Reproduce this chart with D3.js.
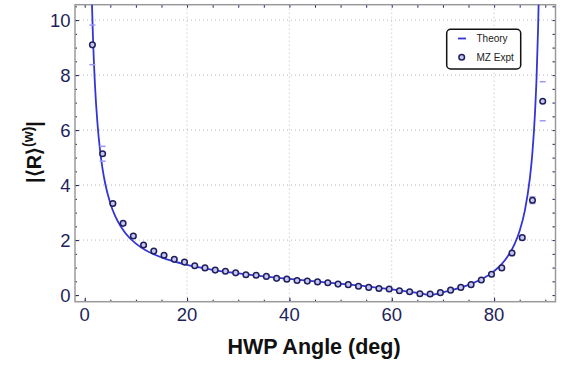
<!DOCTYPE html>
<html>
<head>
<meta charset="utf-8">
<script src="https://cdn.jsdelivr.net/npm/d3@7"></script>
<style>
  body { margin: 0; background: #fff; }
  text { font-family: "Liberation Sans", Arial, sans-serif; }
</style>
</head>
<body>
<script>
// Measured points (HWP angle in deg, |<R>w| and error)
const exptAngle = [1.5, 3.5, 5.5, 7.5, 9.5, 11.5, 13.5, 15.5, 17.5, 19.5,
  21.5, 23.5, 25.5, 27.5, 29.5, 31.5, 33.5, 35.5, 37.5, 39.5,
  41.5, 43.5, 45.5, 47.5, 49.5, 51.5, 53.5, 55.5, 57.5, 59.5,
  61.5, 63.5, 65.5, 67.5, 69.5, 71.5, 73.5, 75.5, 77.5, 79.5,
  81.5, 83.5, 85.5, 87.5, 89.5];
const exptValue = [9.10, 5.14, 3.33, 2.61, 2.15, 1.82, 1.60, 1.45, 1.30, 1.20,
  1.07, 0.99, 0.91, 0.87, 0.81, 0.74, 0.72, 0.68, 0.61, 0.58,
  0.53, 0.51, 0.48, 0.45, 0.40, 0.38, 0.32, 0.28, 0.24, 0.22,
  0.16, 0.12, 0.05, 0.04, 0.09, 0.18, 0.28, 0.38, 0.55, 0.76,
  0.99, 1.53, 2.09, 3.45, 7.05];
const exptError = [0.72, 0.27, 0.06, 0.05, 0.04, 0.03, 0.03, 0.03, 0.03, 0.03,
  0.03, 0.03, 0.03, 0.03, 0.03, 0.03, 0.03, 0.03, 0.03, 0.03,
  0.03, 0.03, 0.03, 0.03, 0.03, 0.03, 0.03, 0.03, 0.03, 0.03,
  0.03, 0.03, 0.03, 0.03, 0.03, 0.03, 0.03, 0.03, 0.03, 0.04,
  0.04, 0.05, 0.06, 0.12, 0.71];

// Theory curve
const theoryAngle = [1.4, 1.6, 1.8, 2.0, 2.5, 3.0, 3.5, 4, 5, 6, 7, 8, 10, 12, 15, 20,
  25, 30, 35, 40, 45, 50, 55, 60, 65, 66, 67.5, 69, 70, 75, 80, 82, 84, 85, 86,
  87, 87.5, 88, 88.3, 88.6, 88.8];
const theoryValue = [10.7, 9.44, 8.44, 7.65, 6.22, 5.26, 4.57, 4.06, 3.34, 2.85, 2.51, 2.24, 1.87, 1.62, 1.37, 1.10,
  0.92, 0.79, 0.68, 0.59, 0.50, 0.41, 0.32, 0.21, 0.08, 0.05, 0.0, 0.056, 0.10, 0.37, 0.87, 1.24, 1.85, 2.34, 3.06,
  4.26, 5.21, 6.65, 7.91, 9.72, 11.43];

const xTicks = [0, 20, 40, 60, 80];
const yTicks = [0, 2, 4, 6, 8, 10];

const width = 561, height = 366;
const plot = {left: 75, right: 555.5, top: 4.7, bottom: 301.7};
const navy = "#1f1f5c";

const svg = d3.select("body")
  .append("svg")
    .attr("width", width)
    .attr("height", height);

const x = d3.scaleLinear()
  .domain([-1.9, 92])
  .range([plot.left, plot.right]);

const y = d3.scaleLinear()
  .domain([-0.24, 10.56])
  .range([plot.bottom, plot.top]);

svg.append("clipPath").attr("id", "clip")
  .append("rect")
    .attr("x", plot.left).attr("y", plot.top)
    .attr("width", plot.right - plot.left)
    .attr("height", plot.bottom - plot.top);

// dotted grid lines
svg.append("g")
  .selectAll("line")
  .data(xTicks.filter(d => d > 0))
  .enter().append("line")
    .attr("x1", d => x(d)).attr("x2", d => x(d))
    .attr("y1", plot.top).attr("y2", plot.bottom)
    .attr("stroke", "#b8b8b8").attr("stroke-dasharray", "1,3");

svg.append("g")
  .selectAll("line")
  .data(yTicks.filter(d => d > 0))
  .enter().append("line")
    .attr("x1", plot.left).attr("x2", plot.right)
    .attr("y1", d => y(d)).attr("y2", d => y(d))
    .attr("stroke", "#b8b8b8").attr("stroke-dasharray", "1,3");

// frame and ticks (inward, on all four sides)
const ph = plot.bottom - plot.top, pw = plot.right - plot.left;
const fmt = () => "";
svg.append("g").attr("transform", `translate(0,${plot.bottom})`)
  .call(d3.axisTop(x).tickValues(d3.range(0, 91, 5)).tickSize(2).tickFormat(fmt));
svg.append("g").attr("transform", `translate(0,${plot.bottom})`)
  .call(d3.axisTop(x).tickValues(xTicks).tickSize(4).tickFormat(fmt));
svg.append("g").attr("transform", `translate(0,${plot.top})`)
  .call(d3.axisBottom(x).tickValues(d3.range(0, 91, 5)).tickSize(3).tickFormat(fmt));
svg.append("g").attr("transform", `translate(${plot.left},0)`)
  .call(d3.axisRight(y).tickValues(d3.range(0, 10.6, 0.5)).tickSize(2).tickFormat(fmt));
svg.append("g").attr("transform", `translate(${plot.left},0)`)
  .call(d3.axisRight(y).tickValues(yTicks).tickSize(4).tickFormat(fmt));
svg.append("g").attr("transform", `translate(${plot.right},0)`)
  .call(d3.axisLeft(y).tickValues(d3.range(0, 10.6, 0.5)).tickSize(3).tickFormat(fmt));
svg.selectAll(".domain").remove();
svg.selectAll(".tick line").attr("stroke", navy);

svg.append("rect")
  .attr("x", plot.left).attr("y", plot.top)
  .attr("width", pw).attr("height", ph)
  .attr("fill", "none").attr("stroke", "#9a9a9a").attr("stroke-width", 1.5);

// tick labels
svg.append("g").selectAll("text")
  .data(xTicks).enter().append("text")
    .attr("x", d => x(d)).attr("y", 321)
    .attr("text-anchor", "middle")
    .attr("font-size", "18.5px").attr("fill", navy)
    .text(d => d);

svg.append("g").selectAll("text")
  .data(yTicks).enter().append("text")
    .attr("x", 70.5).attr("y", d => y(d))
    .attr("dy", "0.36em")
    .attr("text-anchor", "end")
    .attr("font-size", "18.5px").attr("fill", navy)
    .text(d => d);

// theory curve
const theory = theoryAngle.map((a, i) => [a, theoryValue[i]]);
svg.append("path")
  .datum(theory)
  .attr("clip-path", "url(#clip)")
  .attr("fill", "none")
  .attr("stroke", "#3535d6")
  .attr("stroke-width", 1.8)
  .attr("d", d3.line().x(d => x(d[0])).y(d => y(d[1])).curve(d3.curveMonotoneX));

// error bar caps
const expt = exptAngle.map((a, i) => ({a: a, v: exptValue[i], e: exptError[i]}));
const caps = svg.append("g").attr("stroke", "#9a9af2").attr("stroke-width", 1.5);
expt.forEach(d => {
  [d.v - d.e, d.v + d.e].forEach(v => {
    caps.append("line")
      .attr("x1", x(d.a) - 3).attr("x2", x(d.a) + 3)
      .attr("y1", y(v)).attr("y2", y(v));
  });
});

// measured points
svg.append("g").selectAll("circle")
  .data(expt).enter().append("circle")
    .attr("cx", d => x(d.a))
    .attr("cy", d => y(d.v))
    .attr("r", 2.8)
    .attr("fill", "#c6c6f0")
    .attr("stroke", navy)
    .attr("stroke-width", 1.5);

// legend
const lg = svg.append("g");
lg.append("rect")
  .attr("x", 446.7).attr("y", 29.3).attr("width", 74).attr("height", 39.7)
  .attr("rx", 4).attr("fill", "#fff").attr("stroke", "#111").attr("stroke-width", 1.5);
lg.append("line")
  .attr("x1", 458).attr("x2", 466).attr("y1", 38.5).attr("y2", 38.5)
  .attr("stroke", "#3535d6").attr("stroke-width", 1.8);
lg.append("circle")
  .attr("cx", 461.7).attr("cy", 57.3).attr("r", 2.8)
  .attr("fill", "#c6c6f0").attr("stroke", navy).attr("stroke-width", 1.5);
lg.append("text").attr("x", 476.5).attr("y", 42).attr("font-size", "10px").attr("fill", "#222").text("Theory");
lg.append("text").attr("x", 476.5).attr("y", 61).attr("font-size", "10px").attr("fill", "#222").text("MZ Expt");

// axis titles
svg.append("text")
  .attr("x", 314).attr("y", 354)
  .attr("text-anchor", "middle")
  .attr("font-size", "21.5px").attr("font-weight", "bold").attr("fill", "#111")
  .text("HWP Angle (deg)");

const yl = svg.append("text")
  .attr("transform", "translate(41,152) rotate(-90)")
  .attr("text-anchor", "middle")
  .attr("font-size", "20px").attr("font-weight", "bold").attr("fill", "#111");
yl.append("tspan").text("|\u27E8R\u27E9");
yl.append("tspan").attr("font-size", "14px").attr("dy", "-8").text("(w)");
yl.append("tspan").attr("dy", "8").text("|");
</script>
</body>
</html>
